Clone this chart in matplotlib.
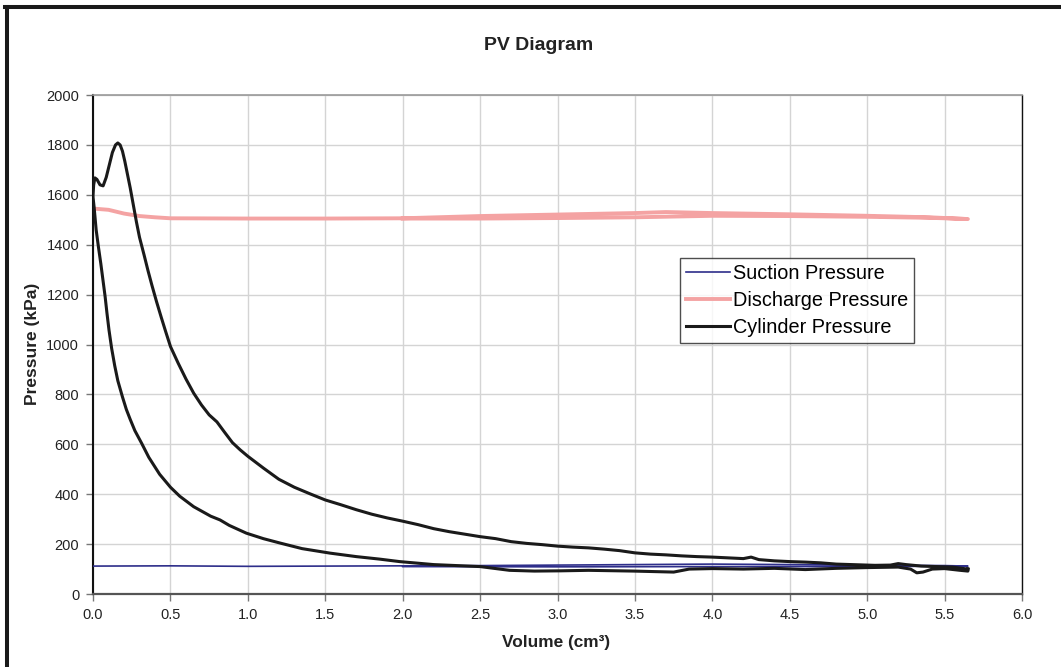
import matplotlib
matplotlib.use("Agg")
import matplotlib.pyplot as plt
from matplotlib.lines import Line2D

plt.rcParams["font.family"] = ["Liberation Sans", "DejaVu Sans"]

# ---- data ------------------------------------------------------------------
# cylinder: upper (compression) branch right -> left, then lower branch left -> right
cyl_vol = [5.65, 5.55, 5.45, 5.35, 5.25, 5.2, 5.15, 5.05, 4.95, 4.8, 4.7, 4.6,
           4.5, 4.4, 4.3, 4.25, 4.2, 4.1, 4.0, 3.9, 3.8, 3.7, 3.6, 3.5, 3.4,
           3.3, 3.2, 3.1, 3.0, 2.9, 2.8, 2.7, 2.6, 2.5, 2.4, 2.3, 2.2, 2.1,
           2.0, 1.9, 1.8, 1.7, 1.6, 1.5, 1.4, 1.3, 1.2, 1.1, 1.0, 0.95, 0.9,
           0.85, 0.8, 0.75, 0.7, 0.65, 0.6, 0.55, 0.5, 0.47, 0.44, 0.41, 0.38,
           0.355, 0.33, 0.30, 0.28, 0.26, 0.24, 0.22, 0.205, 0.19, 0.175,
           0.16, 0.145, 0.125, 0.105, 0.085, 0.065, 0.045, 0.025, 0.012,
           0.004, 0.0,
           0.0, 0.007, 0.02, 0.035, 0.05, 0.065, 0.078, 0.09, 0.103, 0.12,
           0.14, 0.16, 0.19, 0.215, 0.24, 0.27, 0.314, 0.36, 0.43, 0.5, 0.56,
           0.65, 0.76, 0.82, 0.88, 0.99, 1.1, 1.21, 1.35, 1.53, 1.7, 1.85,
           1.98, 2.2, 2.5, 2.69, 2.85, 3.02, 3.2, 3.49, 3.75, 3.85, 4.0, 4.2,
           4.4, 4.6, 4.8, 5.0, 5.2, 5.28, 5.32, 5.36, 5.42, 5.5, 5.6, 5.65,
           5.65]
cyl_pres = [100, 108, 110, 112, 118, 122, 116, 115, 117, 120, 125, 128,
            130, 133, 138, 148, 142, 145, 148, 150, 153, 157, 160, 165, 174,
            180, 185, 188, 192, 198, 203, 210, 222, 230, 240, 250, 262, 278,
            292, 305, 320, 338, 358, 377, 402, 428, 460, 505, 552, 578, 607,
            648, 690, 718, 758, 805, 862, 925, 992, 1050, 1110, 1172, 1238,
            1296, 1358, 1430, 1492, 1560, 1628, 1690, 1735, 1775, 1800,
            1808, 1800, 1770, 1720, 1670, 1636, 1640, 1662, 1668,
            1640, 1600,
            1590, 1550, 1460, 1390, 1325, 1255, 1192, 1125, 1058, 985,
            915, 855, 790, 740, 700, 655, 604, 548, 480, 428, 392,
            350, 312, 297, 275, 244, 222, 204, 182, 164, 150, 140,
            130, 118, 110, 95, 92, 93, 95, 92, 88, 100, 102, 100,
            103, 98, 103, 106, 108, 100, 85, 88, 100, 102, 95, 92,
            100]

dis_vol = [0.0, 0.1, 0.2, 0.3, 0.4, 0.5, 1.0, 1.5, 2.0, 2.5, 3.0, 3.5, 3.7,
           4.0, 4.5, 5.0, 5.4, 5.65,
           5.4, 5.0, 4.5, 4.0, 3.5, 3.0, 2.5, 2.0]
dis_pres = [1545, 1540, 1525, 1515, 1510, 1506, 1505, 1505, 1506, 1515, 1521,
            1527, 1531, 1527, 1522, 1516, 1510, 1503,
            1508, 1512, 1515, 1516, 1510, 1507, 1505, 1505]

suc_vol = [0.0, 0.5, 1.0, 1.5, 2.0, 2.5, 3.0, 3.5, 4.0, 4.5, 5.0, 5.5, 5.65,
           5.0, 4.0, 3.0, 2.0]
suc_pres = [112, 113, 111, 112, 113, 114, 116, 118, 120, 118, 116, 114, 112,
            110, 110, 109, 110]

# ---- figure ----------------------------------------------------------------
fig = plt.figure(figsize=(10.61, 6.67), dpi=100)
ax = fig.add_axes([0.0877, 0.1094, 0.8756, 0.7481])

ax.plot(suc_vol, suc_pres, color="#2e2e8a", lw=1.2, label="Suction Pressure",
        zorder=3)
ax.plot(dis_vol, dis_pres, color="#f4a3a3", lw=2.8, label="Discharge Pressure",
        zorder=2)
ax.plot(cyl_vol, cyl_pres, color="#1a1a1a", lw=2.2, label="Cylinder Pressure",
        zorder=4)

ax.set_xlim(0, 6)
ax.set_ylim(0, 2000)
ax.set_xticks([i * 0.5 for i in range(13)])
ax.set_xticklabels([f"{i * 0.5:.1f}" for i in range(13)])
ax.set_yticks(range(0, 2001, 200))
ax.tick_params(direction="out", length=5, width=1, color="#777777",
               labelsize=10.5, labelcolor="#222222", pad=5)
ax.grid(True, color="#d4d4d4", lw=1)
ax.set_axisbelow(True)

ax.spines["left"].set_color("#111111")
ax.spines["left"].set_linewidth(1.5)
ax.spines["right"].set_color("#111111")
ax.spines["right"].set_linewidth(1.0)
ax.spines["top"].set_color("#999999")
ax.spines["top"].set_linewidth(1.2)
ax.spines["bottom"].set_color("#555555")
ax.spines["bottom"].set_linewidth(1.6)

leg = ax.legend(loc="upper left", bbox_to_anchor=(0.632, 0.673),
                fontsize=14.3, frameon=True, fancybox=False, handlelength=2.2,
                borderpad=0.3, labelspacing=0.4, handletextpad=0.15,
                borderaxespad=0)
leg.get_frame().set_edgecolor("#222222")
leg.get_frame().set_linewidth(1.0)

fig.text(539 / 1061, 1 - 45 / 667, "PV Diagram", ha="center", va="center",
         fontsize=14, fontweight="bold", color="#222222")
fig.text(556 / 1061, 1 - 643 / 667, "Volume (cm³)", ha="center", va="center",
         fontsize=12.4, fontweight="bold", color="#222222")
fig.text(33 / 1061, 1 - 344 / 667, "Pressure (kPa)", ha="center", va="center",
         rotation=90, fontsize=12.5, fontweight="bold", color="#222222")

# thick frame on left and top edges
fig.add_artist(Line2D([0.0066, 0.0066], [0, 0.99], color="#1a1a1a", lw=2.9,
                      transform=fig.transFigure))
fig.add_artist(Line2D([0.0047, 1.0], [0.99, 0.99], color="#1a1a1a", lw=2.9,
                      transform=fig.transFigure))

fig.savefig("out.png", dpi=100, facecolor="white")
